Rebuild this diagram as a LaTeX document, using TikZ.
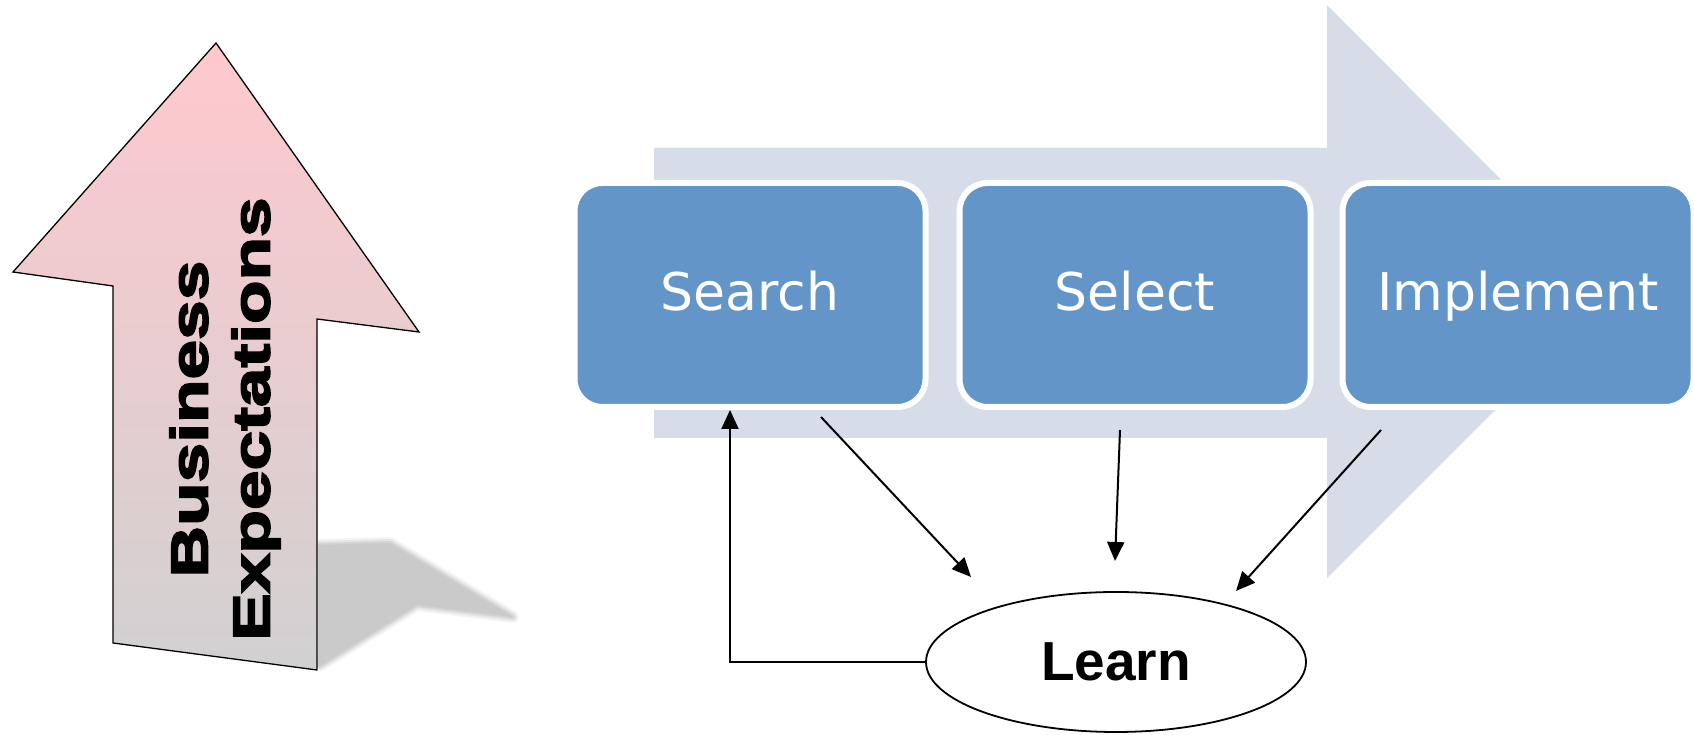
\documentclass[tikz,border=0pt]{standalone}
\usepackage{fontspec}
\setmainfont{DejaVu Sans}
\newfontfamily\learnfont{Liberation Sans}
\newfontfamily\heavyfont[BoldFeatures={FakeBold=3.5,FakeStretch=1.37}]{Liberation Sans}
\usepackage{tikz}
\usetikzlibrary{
    calc,
    arrows.meta,
    shapes.geometric
}
\definecolor{stepblue}{RGB}{99,149,201}
\definecolor{flowgray}{RGB}{214,221,233}
\definecolor{hopepink}{RGB}{255,200,206}
\definecolor{hopegray}{RGB}{209,209,209}
\definecolor{shadegray}{RGB}{202,202,202}
\tikzset{
    stage/.style={draw=white, line width=6pt, fill=stepblue, rounded corners=28pt,
        minimum width=351pt, minimum height=224pt, text=white,
        text height=40pt, text depth=8pt,
        font=\fontsize{52}{60}\selectfont},
    link/.style={-{Triangle[length=19pt,width=17pt]}, line width=2pt},
}

\begin{document}
\begin{tikzpicture}[x=1pt,y=1pt]
        \fill[white] (0,0) rectangle (1694,735);
        \useasboundingbox (0,0) rectangle (1694,735);

        % rising arrow with its soft shadow
        \fill[shadegray] (318,190) -- (390,192) -- (513,118) -- (417,130) -- (318,68) -- cycle;
        \foreach \w/\o in {4/0.6, 8/0.35, 12/0.2}
            \draw[shadegray, opacity=\o, line width=\w pt, line join=round]
                (318,190) -- (390,192) -- (513,118) -- (417,130) -- (318,68);
        \draw[line width=1.3pt, top color=hopepink, bottom color=hopegray]
            (216,692) -- (419,403) -- (317,416) -- (317,65) -- (113,92) -- (113,449) -- (13,463) -- cycle;
        \draw (225,316) node[rotate=90, align=center,
            font=\heavyfont\bfseries\fontsize{52}{62}\selectfont](goal){Business\\Expectations};

        % process arrow
        \fill[flowgray] (654,587) -- (1327,587) -- (1327,730) -- (1613,443)
            -- (1327,157) -- (1327,297) -- (654,297) -- cycle;

        \draw ( 750,440) node[stage](search){Search};
        \draw (1135,440) node[stage](select){Select};
        \draw (1518,440) node[stage](impl){Implement};

        \draw (1116,73) node[ellipse, draw, line width=1.8pt, minimum width=380pt, minimum height=140pt,
            font=\learnfont\bfseries\fontsize{55}{60}\selectfont](learn){Learn};

        \draw[link] (learn.west) -| ([xshift=-20pt]search.south);
        \draw[link] ([shift={(71pt,-7pt)}]search.south) -- ([shift={(-145pt,85pt)}]learn.center);
        \draw[link] ([shift={(-15pt,-20pt)}]select.south) -- ([shift={(-1pt,101pt)}]learn.center);
        \draw[link] ([shift={(-137pt,-20pt)}]impl.south) -- ([shift={(120pt,71pt)}]learn.center);
    \end{tikzpicture}
\end{document}
